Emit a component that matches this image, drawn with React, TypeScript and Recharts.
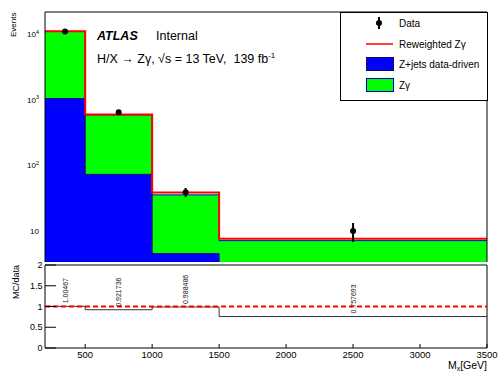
import React from 'react';
import {
  ComposedChart,
  Area,
  Line,
  Scatter,
  ErrorBar,
  XAxis,
  YAxis,
  ReferenceLine,
  ReferenceArea,
} from 'recharts';

// M_x bins [GeV]
const binEdges = [200, 500, 1000, 1500, 3500];
const binCentres = [350, 750, 1250, 2500];

// events per bin
const zjetsDataDriven = [1050, 73, 4.5, 1.5];
const zGamma = [10050, 517, 31, 5.6];
const reweightedZGamma = [11150, 600, 38.5, 7.6];
const dataEvents = [11100, 650, 39, 10];
const dataErrors = [105, 25.5, 6.2, 3.2];

// MC / data
const ratioMcData = [1.00467, 0.921736, 0.988486, 0.757693];
const ratioLabels = ['1.00467', '0.921736', '0.988486', '0.757693'];

const eventTicks = [10, 100, 1000, 10000];
// only the minor tick above the stack shows; the rest sit under the fills
const eventMinorTicks = [20000];
const ratioTicks = [0, 0.5, 1, 1.5, 2];
const ratioMinorTicks = [0.25, 0.75, 1.25, 1.75];
const massTicks = [500, 1000, 1500, 2000, 2500, 3000, 3500];
const massMinorTicks = Array.from({ length: 33 }, (_, i) => 300 + i * 100).filter((v) => v % 500 !== 0);

const X_DOMAIN: [number, number] = [200, 3500];
const Y_DOMAIN: [number, number] = [3.35, 22000];
const FONT = '"Liberation Sans", Arial, Helvetica, sans-serif';

const nBins = binCentres.length;
const stepRows = binEdges.map((x, i) => {
  const b = Math.min(i, nBins - 1);
  return {
    x,
    zjets: zjetsDataDriven[b],
    stack: zjetsDataDriven[b] + zGamma[b],
    rew: reweightedZGamma[b],
    ratio: ratioMcData[b],
  };
});
const dataRows = binCentres.map((x, i) => ({ x, y: dataEvents[i], err: dataErrors[i] }));
const ratioRows = binCentres.map((x, i) => ({ x, r: ratioMcData[i], label: ratioLabels[i] }));

const PowerTick = (props: any) => {
  const { x, y, payload } = props;
  const exp = Math.round(Math.log10(payload.value));
  return (
    <text x={x} y={y + 3} textAnchor="end" fontSize={8} fill="#000">
      <tspan>10</tspan>
      {exp > 1 && (
        <tspan dy={-3.5} fontSize={5.5}>
          {exp}
        </tspan>
      )}
    </text>
  );
};

const DataDot = (props: any) => <circle cx={props.cx} cy={props.cy} r={3} fill="#000" />;

const RatioText = (props: any) => {
  const { cx, cy, payload } = props;
  const x = cx + 2.5;
  const y = cy - 3;
  return (
    <text x={x} y={y} transform={`rotate(-90 ${x} ${y})`} fontSize={7} fill="#111">
      {payload.label}
    </text>
  );
};

export default function App() {
  return (
    <div style={{ position: 'absolute', left: 0, top: 0, width: 498, height: 371, background: '#fff', fontFamily: FONT }}>
      <div style={{ position: 'absolute', left: 0, top: 0 }}>
        <ComposedChart width={498} height={264} data={stepRows} margin={{ top: 12, right: 11, bottom: 2, left: 0 }}>
          <XAxis dataKey="x" type="number" domain={X_DOMAIN} hide allowDataOverflow />
          <YAxis
            yAxisId="minor"
            scale="log"
            domain={Y_DOMAIN}
            allowDataOverflow
            ticks={eventMinorTicks}
            interval={0}
            tick={false}
            tickSize={-6}
            tickLine={{ stroke: '#555' }}
            axisLine={false}
            width={0}
          />
          <YAxis
            scale="log"
            domain={Y_DOMAIN}
            allowDataOverflow
            ticks={eventTicks}
            interval={0}
            tick={<PowerTick />}
            tickSize={6}
            tickMargin={0}
            tickLine={false}
            width={45}
            axisLine={{ stroke: '#000' }}
          />
          <Area type="stepAfter" dataKey="stack" fill="#00ff00" fillOpacity={1} stroke="#0000cc" strokeWidth={1} isAnimationActive={false} />
          <Area type="stepAfter" dataKey="zjets" fill="#0000ff" fillOpacity={1} stroke="#10106a" strokeWidth={1} isAnimationActive={false} />
          <Line type="stepAfter" dataKey="rew" stroke="#ff0000" strokeWidth={2} dot={false} isAnimationActive={false} />
          <Scatter data={dataRows} dataKey="y" fill="#000" shape={DataDot} isAnimationActive={false}>
            <ErrorBar dataKey="err" direction="y" width={0} stroke="#000" strokeWidth={2} />
          </Scatter>
          <ReferenceLine y={Y_DOMAIN[1]} stroke="#000" />
          <ReferenceLine x={X_DOMAIN[1]} stroke="#000" />
        </ComposedChart>
      </div>

      <div style={{ position: 'absolute', left: 0, top: 254 }}>
        <ComposedChart width={498} height={117} data={stepRows} margin={{ top: 11, right: 11, bottom: 0, left: 0 }}>
          <XAxis
            xAxisId="minor"
            dataKey="x"
            type="number"
            domain={X_DOMAIN}
            ticks={massMinorTicks}
            interval={0}
            tick={false}
            tickSize={-2}
            tickLine={{ stroke: '#000' }}
            axisLine={false}
            height={0}
          />
          <XAxis
            dataKey="x"
            type="number"
            domain={X_DOMAIN}
            ticks={massTicks}
            interval={0}
            tickSize={-4}
            tickMargin={7}
            height={23}
            axisLine={false}
            tick={{ fontSize: 9.5, fill: '#000' }}
            tickLine={{ stroke: '#000' }}
          />
          <YAxis
            yAxisId="minor"
            type="number"
            domain={[0, 2]}
            ticks={ratioMinorTicks}
            interval={0}
            tick={false}
            tickSize={-5.5}
            tickLine={{ stroke: '#000' }}
            axisLine={false}
            width={0}
          />
          <YAxis
            type="number"
            domain={[0, 2]}
            ticks={ratioTicks}
            interval={0}
            tickSize={-11}
            tickMargin={13.5}
            width={45}
            axisLine={false}
            tick={{ fontSize: 9, fill: '#000' }}
            tickLine={{ stroke: '#000' }}
          />
          <Line type="stepAfter" dataKey="ratio" stroke="#333" strokeWidth={1} dot={false} isAnimationActive={false} />
          <ReferenceLine y={1} stroke="#ff0000" strokeWidth={2} strokeDasharray="5 3" />
          <Scatter data={ratioRows} dataKey="r" shape={RatioText} isAnimationActive={false} />
          <ReferenceArea x1={X_DOMAIN[0]} x2={X_DOMAIN[1]} y1={0} y2={2} fill="none" fillOpacity={0} stroke="#000" strokeOpacity={1} />
        </ComposedChart>
      </div>

      <svg width={498} height={371} style={{ position: 'absolute', left: 0, top: 0, pointerEvents: 'none' }}>
        <text x={15.5} y={12.5} transform="rotate(-90 15.5 12.5)" textAnchor="end" fontSize={8} fill="#000">
          Events
        </text>
        <text x={18.5} y={265} transform="rotate(-90 18.5 265)" textAnchor="end" fontSize={9} fill="#000">
          MC/data
        </text>
        <text x={487} y={369} textAnchor="end" fontSize={10.5} fill="#000">
          M<tspan dy={2} fontSize={7}>x</tspan>
          <tspan dy={-2}>[GeV]</tspan>
        </text>

        <text x={97} y={39.5} fontSize={12.5} fill="#000">
          <tspan fontWeight="bold" fontStyle="italic">ATLAS</tspan>
          <tspan x={156}>Internal</tspan>
        </text>
        <text x={97} y={62.7} fontSize={12.5} fill="#000" xmlSpace="preserve">
          H/X → Zγ, √s = 13 TeV,  139 fb<tspan dy={-5} fontSize={8}>-1</tspan>
        </text>

        <rect x={340.5} y={12.5} width={147} height={88} fill="#fff" stroke="#000" strokeWidth={1} />
        <line x1={379} y1={17} x2={379} y2={29} stroke="#000" strokeWidth={2} />
        <circle cx={379} cy={23} r={3} fill="#000" />
        <text x={399} y={26.6} fontSize={10} fill="#000">Data</text>
        <line x1={366} y1={44} x2={393} y2={44} stroke="#ff0000" strokeWidth={1.5} />
        <text x={399} y={47.6} fontSize={10} fill="#000">Reweighted Zγ</text>
        <rect x={366.5} y={57.5} width={27} height={13} fill="#0000ff" stroke="#10106a" />
        <text x={399} y={67.6} fontSize={10} fill="#000">Z+jets data-driven</text>
        <rect x={366.5} y={78.5} width={27} height={13} fill="#00ff00" stroke="#0000cc" />
        <text x={399} y={88.6} fontSize={10} fill="#000">Zγ</text>
      </svg>
    </div>
  );
}
